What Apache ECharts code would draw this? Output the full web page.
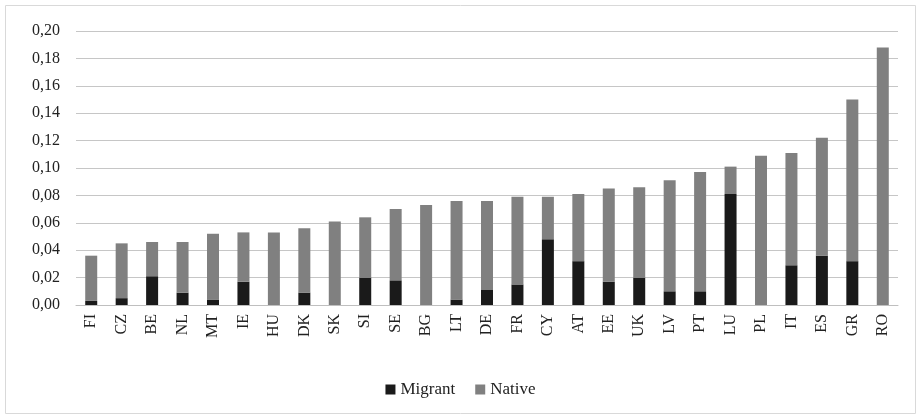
<!DOCTYPE html>
<html><head><meta charset="utf-8">
<script src="https://cdn.jsdelivr.net/npm/echarts@6/dist/echarts.min.js"></script>
<style>html,body{margin:0;padding:0;background:#fff}#c{width:921px;height:419px}</style>
</head><body><div id="c"></div>
<script>
const categories = ['FI','CZ','BE','NL','MT','IE','HU','DK','SK','SI','SE','BG','LT','DE','FR','CY','AT','EE','UK','LV','PT','LU','PL','IT','ES','GR','RO'];
const migrant = [0.003,0.005,0.021,0.009,0.004,0.017,0,0.009,0,0.020,0.018,0,0.004,0.011,0.015,0.048,0.032,0.017,0.020,0.010,0.010,0.081,0,0.029,0.036,0.032,0];
const native = [0.033,0.040,0.025,0.037,0.048,0.036,0.053,0.047,0.061,0.044,0.052,0.073,0.072,0.065,0.064,0.031,0.049,0.068,0.066,0.081,0.087,0.020,0.109,0.082,0.086,0.118,0.188];
const yTicks = {min:0, max:0.20, interval:0.02};
const FONT = 'Liberation Serif';
const chart = echarts.init(document.getElementById('c'));
chart.setOption({
  animation:false,
  textStyle:{fontFamily:FONT},
  graphic:[{type:'rect',shape:{x:5.5,y:5.5,width:910,height:408},style:{fill:'none',stroke:'#d9d9d9',lineWidth:1},silent:true}],
  grid:{left:76,right:23,top:31,bottom:114},
  legend:{top:376,left:'center',itemWidth:10,itemHeight:10,itemGap:20,icon:'rect',
    textStyle:{fontFamily:FONT,fontSize:17,color:'#222'},data:['Migrant','Native']},
  xAxis:{type:'category',data:categories,
    axisLine:{lineStyle:{color:'#bfbfbf'}},axisTick:{show:false},
    axisLabel:{rotate:90,fontFamily:FONT,fontSize:16,color:'#222',margin:9,interval:0}},
  yAxis:{type:'value',min:yTicks.min,max:yTicks.max,interval:yTicks.interval,
    axisLine:{show:false},axisTick:{show:false},
    splitLine:{lineStyle:{color:'#c6c6c6',width:1}},
    axisLabel:{fontFamily:FONT,fontSize:16,color:'#222',margin:16,formatter:v=>v.toFixed(2).replace('.',',')}},
  series:[
    {name:'Migrant',type:'bar',stack:'t',data:migrant,barWidth:12,itemStyle:{color:'#1a1a1a'}},
    {name:'Native',type:'bar',stack:'t',data:native,barWidth:12,itemStyle:{color:'#808080'}}
  ]
});
</script></body></html>
